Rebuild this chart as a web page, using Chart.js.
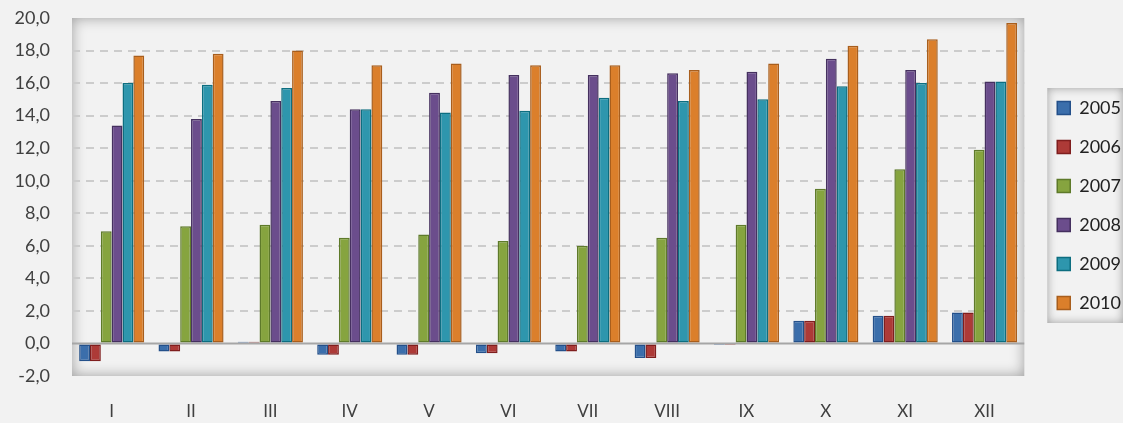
<!DOCTYPE html>
<html>
<head>
<meta charset="utf-8">
<script src="https://cdn.jsdelivr.net/npm/chart.js@4/dist/chart.umd.min.js"></script>
<style>
  html, body { margin: 0; padding: 0; background: #f2f2f2; }
  #wrap { width: 1123px; height: 423px; }
</style>
</head>
<body>
<div id="wrap"><canvas id="tempChart" width="1123" height="423"></canvas></div>
<script>
const months = ['I','II','III','IV','V','VI','VII','VIII','IX','X','XI','XII'];
const years = ['2005','2006','2007','2008','2009','2010'];
const v2005 = [-1.1,-0.5,0.1,-0.7,-0.7,-0.6,-0.5,-0.9,-0.1,1.4,1.7,1.9];
const v2006 = [-1.1,-0.5,0.1,-0.7,-0.7,-0.6,-0.5,-0.9,-0.1,1.4,1.7,1.9];
const v2007 = [6.9,7.2,7.3,6.5,6.7,6.3,6.0,6.5,7.3,9.5,10.7,11.9];
const v2008 = [13.4,13.8,14.9,14.4,15.4,16.5,16.5,16.6,16.7,17.5,16.8,16.1];
const v2009 = [16.0,15.9,15.7,14.4,14.2,14.3,15.1,14.9,15.0,15.8,16.0,16.1];
const v2010 = [17.7,17.8,18.0,17.1,17.2,17.1,17.1,16.8,17.2,18.3,18.7,19.7];

const fills = ['#3b6eab','#ad3a37','#86a43f','#6b4d8c','#2e96ad','#db7f2b'];
const edges = ['#24508a','#7f1e1e','#5e7a2a','#45305f','#0d6e80','#a85e1d'];

// inner shaded frame of the plot area and of the legend
const plotFrame = {
    id: 'plotFrame',
    afterLayout(chart) {
        // nudge the legend block to where it sits in the original
        const lg = chart.legend;
        if (!lg) return;
        lg.left += 12; lg.right += 12;
        lg.top -= 15; lg.bottom -= 15;
    },
    beforeDraw(chart) {
        const ctx = chart.ctx;
        const a = chart.chartArea;
        ctx.save();
        ctx.fillStyle = '#f2f2f2';
        ctx.fillRect(0, 0, chart.width, chart.height);
        ctx.beginPath();
        ctx.rect(a.left, a.top, a.right - a.left, a.bottom - a.top);
        ctx.clip();
        ctx.shadowColor = 'rgba(0,0,0,0.35)';
        ctx.shadowBlur = 14;
        ctx.lineWidth = 30;
        ctx.strokeStyle = '#d4d4d4';
        ctx.strokeRect(a.left - 15, a.top - 15, a.right - a.left + 30, a.bottom - a.top + 30);
        ctx.restore();
    },
    beforeDatasetsDraw(chart) {
        const ctx = chart.ctx;
        const a = chart.chartArea;
        const y0 = chart.scales.y.getPixelForValue(0);
        ctx.save();
        ctx.strokeStyle = '#a6a6a6';
        ctx.lineWidth = 2;
        ctx.beginPath();
        ctx.moveTo(a.left, y0);
        ctx.lineTo(a.right, y0);
        ctx.stroke();
        ctx.restore();
    },
    afterDraw(chart) {
        const lg = chart.legend;
        if (!lg || !lg.legendHitBoxes.length) return;
        const hb = lg.legendHitBoxes;
        let l = Infinity, t = Infinity, r = -Infinity, b = -Infinity;
        hb.forEach(h => {
            l = Math.min(l, h.left); t = Math.min(t, h.top);
            r = Math.max(r, h.left + h.width); b = Math.max(b, h.top + h.height);
        });
        const ctx = chart.ctx;
        ctx.save();
        ctx.beginPath();
        ctx.rect(l - 10, t - 11, r - l + 12, b - t + 22);
        ctx.clip();
        ctx.shadowColor = 'rgba(0,0,0,0.35)';
        ctx.shadowBlur = 10;
        ctx.lineWidth = 20;
        ctx.strokeStyle = '#d4d4d4';
        ctx.strokeRect(l - 20, t - 21, r - l + 32, b - t + 42);
        ctx.restore();
    }
};

const series = [v2005, v2006, v2007, v2008, v2009, v2010];
const datasets = years.map((y, i) => ({
    label: y,
    data: series[i],
    backgroundColor: fills[i],
    borderColor: edges[i],
    borderWidth: 1.5,
    borderSkipped: false
}));

const ctx = document.getElementById('tempChart').getContext('2d');
const tempChart = new Chart(ctx, {
    type: 'bar',
    data: { labels: months, datasets: datasets },
    options: {
        responsive: false,
        animation: false,
        layout: { padding: { top: 18, right: 4, left: 0, bottom: 0 } },
        datasets: { bar: { categoryPercentage: 0.82, barPercentage: 1.0 } },
        scales: {
            x: {
                grid: { display: false, drawTicks: false },
                border: { display: false },
                ticks: { color: '#404040', padding: 25, font: { family: 'Lato', size: 17 } },
                afterFit: (s) => { s.height = 47; s.paddingTop = 0; s.paddingBottom = 0; }
            },
            y: {
                min: -2, max: 20,
                ticks: {
                    stepSize: 2,
                    color: '#404040',
                    padding: 22,
                    font: { family: 'Lato', size: 18 },
                    callback: (v) => v.toFixed(1).replace('.', ',')
                },
                grid: {
                    drawTicks: false,
                    color: (c) => (c.tick && (c.tick.value === 0 || c.tick.value === 20 || c.tick.value === -2)) ? 'rgba(0,0,0,0)' : '#cccccc',
                    lineWidth: 2
                },
                border: { display: false, dash: [8, 6] },
                afterFit: (s) => { s.width = 72; s.paddingTop = 0; s.paddingBottom = 0; }
            }
        },
        plugins: {
            legend: {
                position: 'right',
                labels: {
                    boxWidth: 13,
                    boxHeight: 13,
                    padding: 21,
                    color: '#222222',
                    font: { family: 'Lato', size: 18 }
                }
            },
            tooltip: { enabled: false }
        }
    },
    plugins: [plotFrame]
});
</script>
</body>
</html>
